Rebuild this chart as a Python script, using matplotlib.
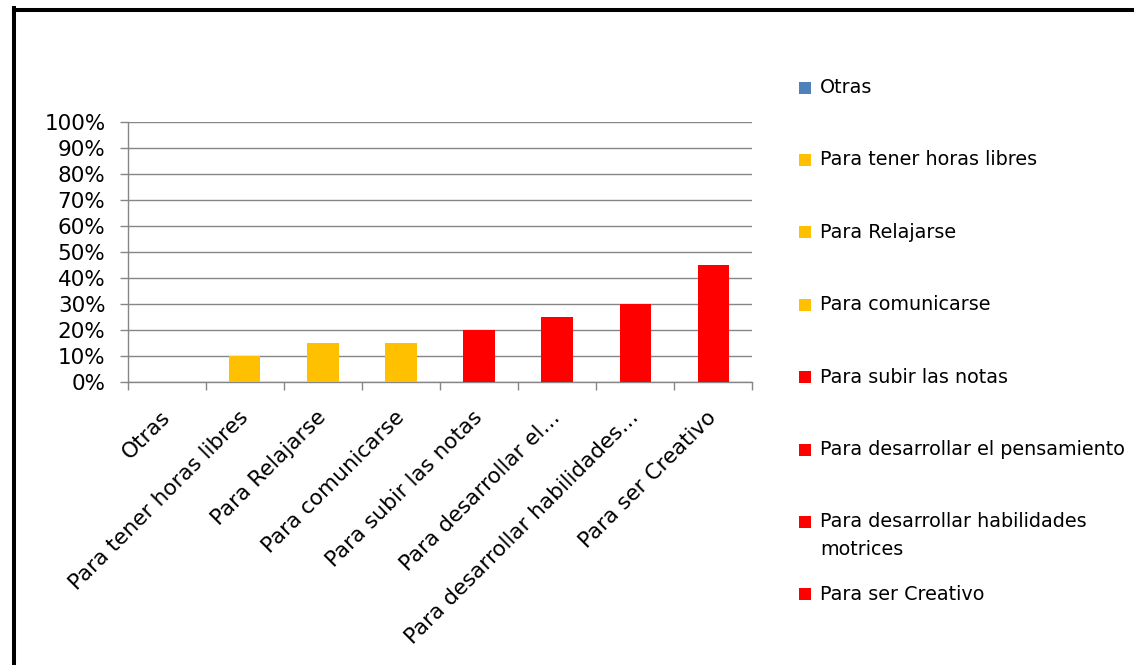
import numpy as np
import matplotlib
matplotlib.use("Agg")
import matplotlib.pyplot as plt
from matplotlib.lines import Line2D
from matplotlib.patches import Rectangle
from matplotlib.ticker import PercentFormatter

# --- DADOS ---
categorias = ["Otras", "Para tener horas libres", "Para Relajarse", "Para comunicarse",
              "Para subir las notas", "Para desarrollar el…", "Para desarrollar habilidades…",
              "Para ser Creativo"]
legenda = ["Otras", "Para tener horas libres", "Para Relajarse", "Para comunicarse",
           "Para subir las notas", "Para desarrollar el pensamiento",
           "Para desarrollar habilidades\nmotrices", "Para ser Creativo"]
valores = [0, 10, 15, 15, 20, 25, 30, 45]
cores = ["#4F81BD", "#FFC000", "#FFC000", "#FFC000", "#FF0000", "#FF0000", "#FF0000", "#FF0000"]

cinza = "#868686"
W, H = 1134, 665

plt.rcParams['font.family'] = ['DejaVu Sans']
fig = plt.figure(figsize=(W / 100, H / 100), dpi=100)
ax = fig.add_axes([127.7 / W, 1 - 382.3 / H, (752.3 - 127.7) / W, (382.3 - 122.3) / H])

x = np.arange(len(categorias))
ax.bar(x, valores, width=0.4, color=cores, zorder=3)

# --- EIXOS ---
ax.set_xlim(-0.5, len(categorias) - 0.5)
ax.set_ylim(0, 100)
ax.set_yticks(np.arange(0, 101, 10))
ax.yaxis.set_major_formatter(PercentFormatter(decimals=0))
ax.tick_params(axis='y', length=6, width=1, color=cinza, pad=10, labelsize=15.5)
ax.grid(axis='y', color=cinza, linewidth=1.0, zorder=0)

ax.set_xticks(np.arange(-0.5, len(categorias), 1))
ax.set_xticklabels([])
ax.tick_params(axis='x', which='major', length=6, width=1, color=cinza)
ax.set_xticks(x, minor=True)
ax.set_xticklabels(categorias, minor=True, rotation=45, ha='right', va='center',
                   rotation_mode='anchor', fontsize=15.5)
ax.tick_params(axis='x', which='minor', length=0, pad=23)

for lado in ['top', 'right']:
    ax.spines[lado].set_visible(False)
for lado in ['left', 'bottom']:
    ax.spines[lado].set_color(cinza)
    ax.spines[lado].set_linewidth(1.0)

# --- LEGENDA ---
y0, passo = 87, 72.4
for i, (rotulo, cor) in enumerate(zip(legenda, cores)):
    yc = y0 + passo * i
    fig.add_artist(Rectangle((799 / W, 1 - (yc + 6.5) / H), 12 / W, 12 / H,
                             transform=fig.transFigure, color=cor, lw=0))
    fig.text(820 / W, 1 - (yc - 9) / H, rotulo, fontsize=13.8, va='top', ha='left',
             linespacing=1.6)

# --- MOLDURA ---
fig.add_artist(Line2D([14 / W, 14 / W], [0, 1 - 8 / H], color='k', lw=2.9,
                      transform=fig.transFigure, solid_capstyle='projecting'))
fig.add_artist(Line2D([14 / W, 1], [1 - 10 / H, 1 - 10 / H], color='k', lw=2.9,
                      transform=fig.transFigure, solid_capstyle='projecting'))

fig.savefig("out.png", dpi=100)
